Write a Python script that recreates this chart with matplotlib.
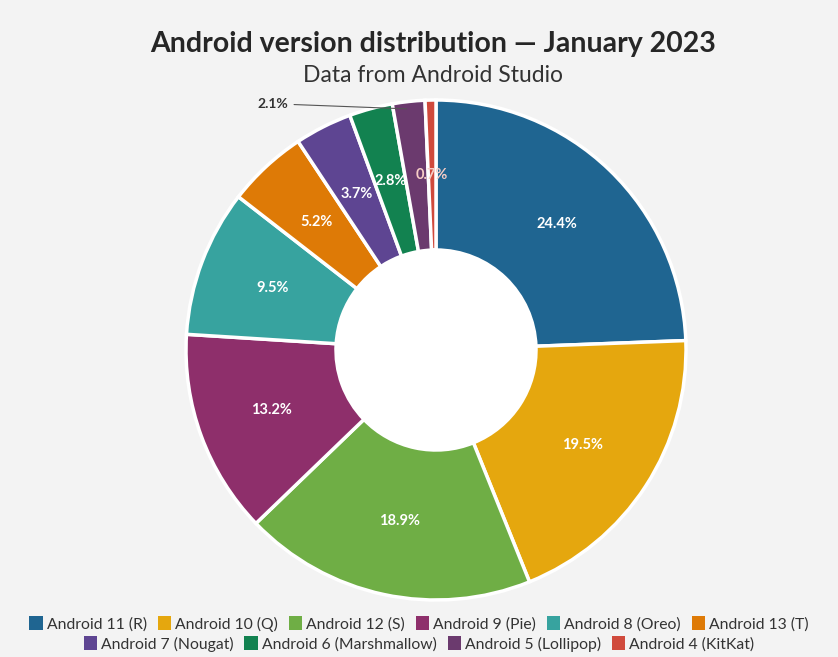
import matplotlib.pyplot as plt
import numpy as np

# Android version share, January 2023 (clockwise from 12 o'clock)
versions = ['Android 11 (R)', 'Android 10 (Q)', 'Android 12 (S)', 'Android 9 (Pie)',
            'Android 8 (Oreo)', 'Android 13 (T)', 'Android 7 (Nougat)',
            'Android 6 (Marshmallow)', 'Android 5 (Lollipop)', 'Android 4 (KitKat)']
shares = [24.4, 19.5, 18.9, 13.2, 9.5, 5.2, 3.7, 2.8, 2.1, 0.7]
colors = ['#1f6591', '#e5a70e', '#6fae45', '#8e2f6b', '#37a39f',
          '#de7a06', '#5e4592', '#128250', '#6b3a6e', '#d04a3c']

plt.rcParams['font.family'] = ['Lato', 'DejaVu Sans']

fig = plt.figure(figsize=(8.38, 6.57), dpi=100, facecolor='#f3f3f3')
ax = fig.add_axes([186 / 838, 57 / 657, 500 / 838, 500 / 657])
ax.set_facecolor('none')

wedges, texts, autotexts = ax.pie(
    shares, colors=colors, startangle=90, counterclock=False, radius=1,
    autopct='%.1f%%', pctdistance=0.7,
    wedgeprops=dict(width=0.6, edgecolor='white', linewidth=2.5),
    textprops=dict(color='white', fontsize=10.5, fontweight='bold'))
ax.set_xlim(-1, 1)
ax.set_ylim(-1, 1)
ax.set_aspect('equal')

# white hole
ax.add_patch(plt.Circle((0, 0), 0.4, color='white', zorder=0))

# tiny KitKat label in a light tint
autotexts[9].set_color('#f7cdc6')

# Lollipop label drawn outside with a leader line
autotexts[8].set_visible(False)
w = wedges[8]
ang = np.deg2rad((w.theta1 + w.theta2) / 2)
ax.annotate(f'{shares[8]:.1f}%', xy=(0.97 * np.cos(ang), 0.97 * np.sin(ang)),
            xytext=(-0.59, 0.985), ha='right', va='center', fontsize=10,
            fontweight='bold', color='#333333', annotation_clip=False,
            arrowprops=dict(arrowstyle='-', color='#555555', lw=0.8))

fig.text(0.517, 1 - 44 / 657, 'Android version distribution — January 2023',
         ha='center', va='center', fontsize=20.5, fontweight='bold', color='#262626')
fig.text(0.517, 1 - 75 / 657, 'Data from Android Studio',
         ha='center', va='center', fontsize=16.5, color='#333333')

leg_kw = dict(frameon=False, fontsize=11.3, handlelength=0.85, handleheight=1.0,
              handletextpad=0.25, columnspacing=0.7, borderaxespad=0, labelcolor='#333333')
leg1 = fig.legend(wedges[:6], versions[:6], ncol=6, loc='center',
                  bbox_to_anchor=(0.5, 1 - 624 / 657), **leg_kw)
leg2 = fig.legend(wedges[6:], versions[6:], ncol=4, loc='center',
                  bbox_to_anchor=(0.5, 1 - 644 / 657), **leg_kw)
for leg in (leg1, leg2):
    for h in leg.legend_handles:
        h.set_linewidth(0)

fig.savefig('out.png', dpi=100, facecolor=fig.get_facecolor())
